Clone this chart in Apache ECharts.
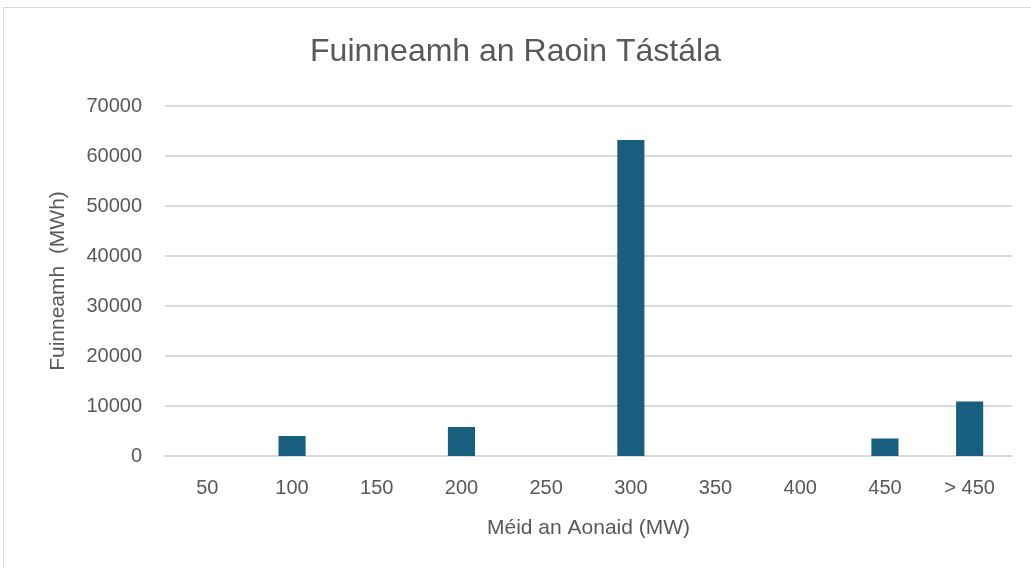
<!DOCTYPE html>
<html>
<head>
<meta charset="utf-8">
<style>
  html, body { margin: 0; padding: 0; background: #fff; }
  #frame { position: absolute; left: 3px; top: 7px; width: 1040px; height: 580px; border: 1px solid #d9d9d9; box-sizing: border-box; }
  #chart { position: absolute; left: 0; top: 0; width: 1031px; height: 568px; }
</style>
<script src="https://cdn.jsdelivr.net/npm/echarts@6/dist/echarts.min.js"></script>
</head>
<body>
<div id="frame"></div>
<div id="chart"></div>
<script>
// 数据
var categories = ['50', '100', '150', '200', '250', '300', '350', '400', '450', '> 450'];
var energyValues = [0, 4000, 0, 5800, 0, 63200, 0, 0, 3500, 10900];
var yTicks = { min: 0, max: 70000, interval: 10000 };

(function () {
  // 1.初始化echarts实例对象
  var myChart = echarts.init(document.getElementById("chart"));

  // 2.指定配置项与数据
  var option = {
    animation: false,
    textStyle: { fontFamily: 'Liberation Sans' },
    title: {
      text: 'Fuinneamh an Raoin Tástála',
      left: 'center',
      top: 31,
      textStyle: { fontSize: 32, fontWeight: 'normal', color: '#595959', fontFamily: 'Liberation Sans' }
    },
    grid: {//设置图表四周留白间距
      left: 165,
      right: 19,
      top: 106,
      bottom: 112
    },
    xAxis: {
      type: 'category',
      data: categories,
      name: 'Méid an Aonaid (MW)',
      nameLocation: 'middle',
      nameGap: 62,
      nameTextStyle: { fontSize: 21, color: '#595959' },
      axisTick: { show: false },
      axisLine: { lineStyle: { color: '#d9d9d9', width: 2 } },
      axisLabel: { fontSize: 20, color: '#595959', margin: 22 }
    },
    yAxis: {
      type: 'value',
      min: yTicks.min,
      max: yTicks.max,
      interval: yTicks.interval,
      name: 'Fuinneamh  (MWh)',
      nameLocation: 'middle',
      nameGap: 96,
      nameTextStyle: { fontSize: 21, color: '#595959' },
      axisLine: { show: false },
      axisTick: { show: false },
      axisLabel: {
        fontSize: 20, color: '#595959', margin: 23,
        formatter: function (v) { return String(v); }
      },
      splitLine: { lineStyle: { color: '#d9d9d9', width: 2 } }
    },
    series: [{
      type: 'bar',
      data: energyValues,
      barWidth: '32%',
      itemStyle: { color: '#175e7f' }
    }]
  };

  // 3.将配置项设置给echarts实例对象
  myChart.setOption(option);
  window.addEventListener("resize", function () {
    myChart.resize();
  });
})();
</script>
</body>
</html>
